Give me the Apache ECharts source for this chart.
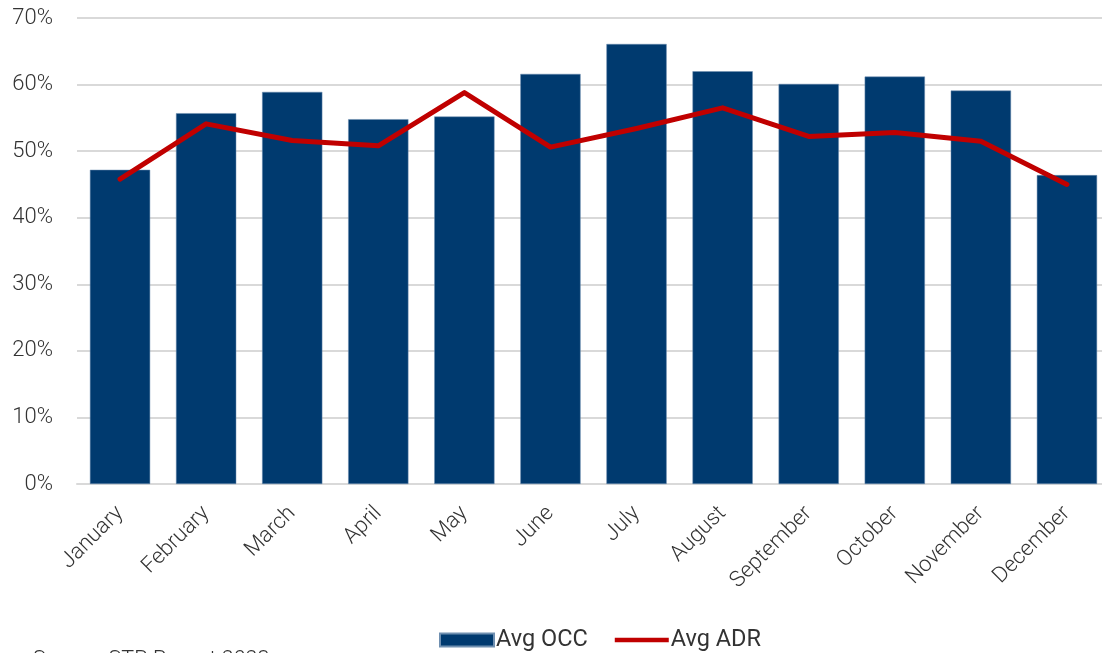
<!DOCTYPE html>
<html>
<head>
<meta charset="utf-8">
<script src="https://cdn.jsdelivr.net/npm/echarts@6/dist/echarts.min.js"></script>
<style>
html,body{margin:0;padding:0;background:#fff;}
#chart{width:1102px;height:653px;}
</style>
</head>
<body>
<div id="chart"></div>
<script>
const categories = ['January','February','March','April','May','June','July','August','September','October','November','December'];
const avgOcc = [47.2, 55.7, 58.9, 54.8, 55.2, 61.6, 66.1, 62.0, 60.1, 61.2, 59.1, 46.4];
const avgAdr = [45.8, 54.1, 51.6, 50.8, 58.8, 50.6, 53.4, 56.5, 52.2, 52.8, 51.5, 45.0];
const yTicks = [0, 10, 20, 30, 40, 50, 60, 70];
const sourceText = 'Source: STR Report 2023';

const chart = echarts.init(document.getElementById('chart'));
const font = 'Roboto, "Liberation Sans", sans-serif';
chart.setOption({
  animation: false,
  backgroundColor: '#fff',
  grid: {left: 77, width: 1033, top: 18, bottom: 169, containLabel: false, outerBoundsMode: 'none'},
  legend: {
    top: 623, left: 434,
    itemWidth: 54, itemHeight: 13, itemGap: 27,
    textStyle: {fontFamily: font, fontWeight: 'normal', fontSize: 23.5, color: '#333333', padding: [0,0,0,-3]},
    data: [
      {name: 'Avg OCC', icon: 'rect'},
      {name: 'Avg ADR', icon: 'path://M0 0H57V5H0Z'}
    ]
  },
  xAxis: {
    type: 'category', data: categories,
    axisLine: {lineStyle: {color: '#D9D9D9', width: 2}},
    axisTick: {show: false},
    axisLabel: {rotate: 45, fontFamily: font, fontWeight: 300, fontSize: 22, color: '#333333', margin: 26, interval: 0}
  },
  yAxis: {
    type: 'value', min: yTicks[0], max: yTicks[yTicks.length-1], interval: 10,
    axisLine: {show: false}, axisTick: {show: false},
    splitLine: {lineStyle: {color: '#D9D9D9', width: 2}},
    axisLabel: {formatter: v => v + '%', fontFamily: font, fontWeight: 300, fontSize: 22, color: '#333333', margin: 24}
  },
  series: [
    {name: 'Avg OCC', type: 'bar', data: avgOcc, barCategoryGap: '30%',
     itemStyle: {color: '#003A6F', borderColor: '#6F8FB0', borderWidth: 0.5}},
    {name: 'Avg ADR', type: 'line', data: avgAdr, symbol: 'none',
     lineStyle: {color: '#C00000', width: 5, cap: 'round', join: 'round'},
     itemStyle: {color: '#C00000'}}
  ],
  graphic: [{
    type: 'text', left: 33, top: 650,
    style: {text: sourceText, fontFamily: font, fontWeight: 300, fontSize: 21.5, fill: '#333333'}
  }]
});
</script>
</body>
</html>
